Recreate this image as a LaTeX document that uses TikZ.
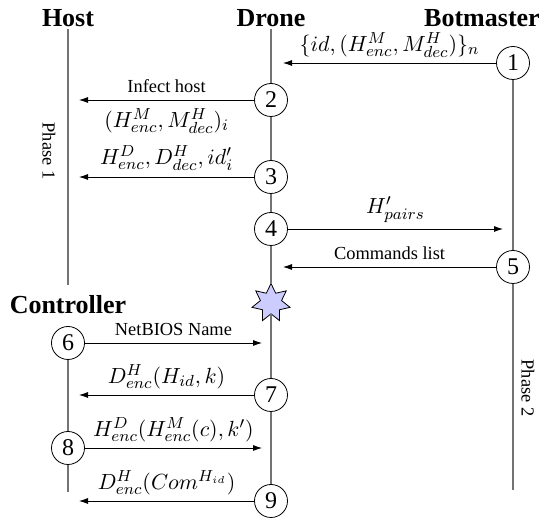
\documentclass[tikz,border=0pt]{standalone}
\usepackage{fontspec}
\setmainfont{Liberation Serif}
\usetikzlibrary{arrows.meta,shapes.geometric}

\begin{document}
\begin{tikzpicture}[x=0.5pt,y=-0.5pt,
  actor/.style={font=\rmfamily\fontsize{13}{15}\selectfont\bfseries,inner sep=1pt},
  stepnum/.style={circle,draw,fill=white,minimum size=16.5pt,inner sep=0pt,font=\rmfamily\fontsize{12}{14}\selectfont},
  life/.style={draw=gray!90!black,line width=0.8pt},
  msg/.style={-{Latex[length=4.5pt,width=3pt]}},
  lbl/.style={font=\rmfamily\fontsize{9.2}{11}\selectfont,inner sep=2pt},
  mlbl/.style={font=\rmfamily\fontsize{10.8}{12}\selectfont,inner sep=2pt}]
\useasboundingbox (0,0) rectangle (542,523);
% actors
\node[actor] (host) at (68,18) {Host};
\node[actor] (drone) at (271,18) {Drone};
\node[actor] (bot) at (482,18) {Botmaster};
\node[actor] (ctl) at (68,305) {Controller};
% steps
\node[stepnum] (c1) at (513,63) {1};
\node[stepnum] (c2) at (271,100) {2};
\node[stepnum] (c3) at (271,177) {3};
\node[stepnum] (c4) at (271,229) {4};
\node[stepnum] (c5) at (513,267) {5};
\node[star,star points=7,star point ratio=1.8,draw,fill=blue!20,minimum size=19.5pt,inner sep=0pt] (star) at (271,303) {};
\node[stepnum] (c6) at (68,343) {6};
\node[stepnum] (c7) at (271,395) {7};
\node[stepnum] (c8) at (68,448) {8};
\node[stepnum] (c9) at (271,501) {9};
\coordinate (hostend) at (68,285);
\coordinate (botend) at (513,490);
\coordinate (ctlend) at (68,492);
% lifelines
\draw[life] (host) -- (hostend);
\draw[life] (drone) -- (c2) -- (c3) -- (c4) -- (star) -- (c7) -- (c9);
\draw[life] (c1) -- (c5) -- (botend);
\draw[life] (c6) -- (c8) -- (ctlend);
% messages
\coordinate (d1) at (283,63);
\coordinate (h2) at (79,100);
\coordinate (h3) at (79,177);
\coordinate (b4) at (503,229);
\coordinate (d5) at (283,267);
\coordinate (d6) at (262,343);
\coordinate (h7) at (79,395);
\coordinate (d8) at (262,448);
\coordinate (h9) at (79,501);
\draw[msg] (c1) -- (d1) node[midway,above=0.5pt,mlbl] {$\{id,(H^M_{enc},M^H_{dec})\}_n$};
\draw[msg] (c2) -- (h2) node[midway,above=1.5pt,lbl] {Infect host}
  node[midway,below=2pt,mlbl] {$(H^M_{enc},M^H_{dec})_i$};
\draw[msg] (c3) -- (h3) node[midway,above=1pt,mlbl] {$H^D_{enc},D^H_{dec},id'_i$};
\draw[msg] (c4) -- (b4) node[midway,above=1pt,mlbl] {$H'_{pairs}$};
\draw[msg] (c5) -- (d5) node[midway,above=1.5pt,lbl] {Commands list};
\draw[msg] (c6) -- (d6) node[midway,above=1.5pt,lbl] {NetBIOS Name};
\draw[msg] (c7) -- (h7) node[midway,above=1pt,mlbl] {$D^H_{enc}(H_{id},k)$};
\draw[msg] (c8) -- (d8) node[midway,above=1pt,mlbl] {$H^D_{enc}(H^M_{enc}(c),k')$};
\draw[msg] (c9) -- (h9) node[midway,above=1pt,mlbl] {$D^H_{enc}(Com^{H_{id}})$};
% phases
\node[rotate=-90,lbl] (ph1) at (49,151) {Phase 1};
\node[rotate=-90,lbl] (ph2) at (528,388) {Phase 2};
\end{tikzpicture}
\end{document}
